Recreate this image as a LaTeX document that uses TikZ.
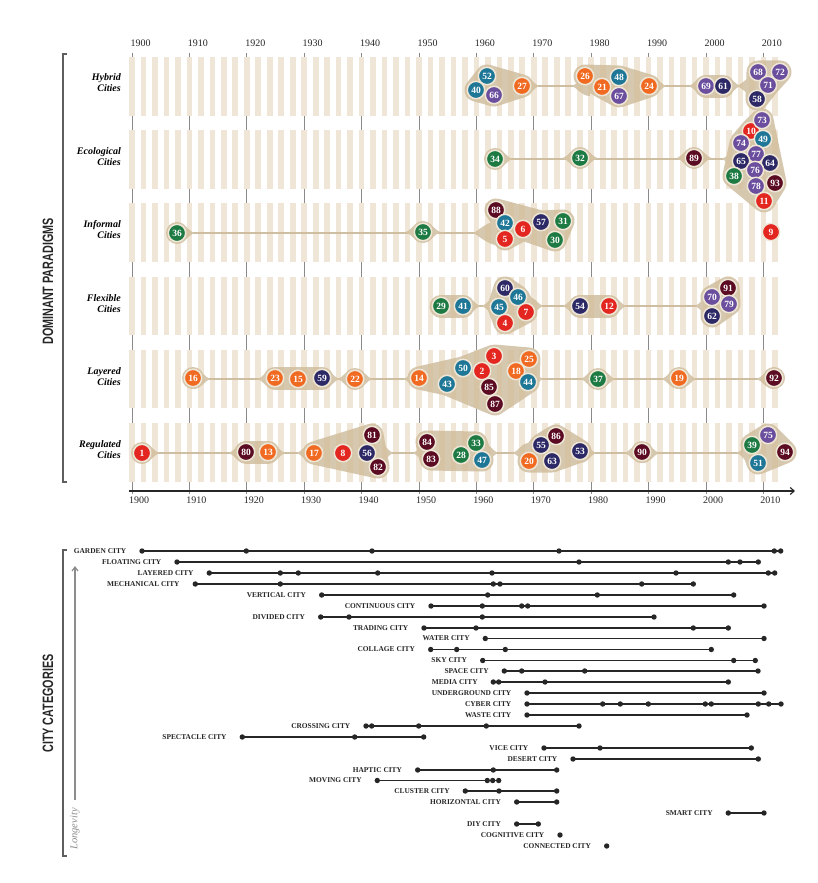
\documentclass[tikz,border=0pt]{standalone}
\usepackage{fontspec}
\setmainfont{Liberation Serif}
\newfontfamily\condfont[FakeStretch=0.72]{Liberation Sans}
\usetikzlibrary{arrows.meta}
\pgfdeclarelayer{bg}\pgfdeclarelayer{ticks}\pgfdeclarelayer{rows}\pgfdeclarelayer{blobs}\pgfdeclarelayer{stripes}
\pgfsetlayers{bg,ticks,rows,blobs,stripes,main}
\definecolor{cred}{HTML}{E3261F}
\definecolor{corg}{HTML}{F16A22}
\definecolor{cteal}{HTML}{1F7797}
\definecolor{cpur}{HTML}{6B4E9E}
\definecolor{cnavy}{HTML}{2C2966}
\definecolor{cgrn}{HTML}{1D7A43}
\definecolor{cmar}{HTML}{5B0B22}
\definecolor{blobc}{HTML}{D6C8AF}
\definecolor{stripec}{HTML}{D4BA90}
\definecolor{halo}{HTML}{EEE6D6}
\definecolor{rowl}{HTML}{CDBFA4}
\definecolor{tickc}{HTML}{8A8A8A}
\definecolor{brc}{HTML}{5E5E5E}
\definecolor{dotc}{HTML}{262626}
\definecolor{longc}{HTML}{8C8C8C}
\newcommand\bub[4]{\node[bubble, fill=#1] (n#2) at (#3,#4) {#2};}
\newcommand\tipp[5]{%
  \begin{scope}[shift={(#1,#2)}, xscale=#3]
  \fill[blobc] (0,-#5) .. controls ({0.5*#4},-#5) and ({#4-5},-1.5) .. (#4,0)
     .. controls ({#4-5},1.5) and ({0.5*#4},#5) .. (0,#5) -- cycle;
  \end{scope}}
\newcommand\tipb[2]{\tipp{#1}{#2}{1}{17}{10}\tipp{#1}{#2}{-1}{17}{10}}
\newcommand\cityrow[4]{%
  \foreach \xx [count=\k] in {#4} {\node[cdot] (#1-\k) at (\xx,#3) {}; \xdef\lastk{\k}}
  \draw[cline] (#1-1.center) -- (#1-\lastk.center);
  \node[clab] (#1-lab) at ([xshift=-15.5pt]#1-1.center) {#2};}
\begin{document}
\begin{tikzpicture}[x=1pt,y=-1pt,
  bubble/.style={circle, minimum size=17.4pt, inner sep=0pt, draw=halo, line width=1.5pt,
     text=white, font=\fontsize{9.5}{9.5}\selectfont\bfseries},
  rowlab/.style={anchor=east, align=right, inner sep=0pt, font=\fontsize{10}{11}\selectfont\bfseries\itshape},
  yearlab/.style={inner sep=0pt, text=black!85, font=\fontsize{10}{10}\selectfont},
  cdot/.style={circle, fill=dotc, minimum size=5.4pt, inner sep=0pt},
  cline/.style={draw=dotc, line width=1.7pt},
  clab/.style={anchor=east, inner sep=0pt, text=black!85, font=\fontsize{7.4}{7.4}\selectfont\bfseries},
  blobline/.style={draw=blobc, line width=23pt, line cap=round, line join=round},
  rowline/.style={draw=rowl, line width=2.2pt},
  gtick/.style={draw=tickc, line width=0.9pt},
  bracket/.style={draw=brc, line width=1.8pt},
  biglab/.style={rotate=90, inner sep=0pt, text=black!85, font=\condfont\bfseries\fontsize{15}{15}\selectfont}]
\useasboundingbox (0,0) rectangle (818,883);
\begin{pgfonlayer}{bg}
\fill[white] (0,0) rectangle (818,883);
\end{pgfonlayer}

% ---------- axes, ticks, stripes ----------
\begin{pgfonlayer}{ticks}
\foreach \d in {0,...,11}{
  \pgfmathsetmacro\xx{132+57.4*\d}
  \draw[gtick] (\xx,53) -- (\xx,57);
  \foreach \i in {0,...,4}{\draw[gtick] (\xx,{57+73.2*\i+58.5}) -- (\xx,{57+73.2*(\i+1)});}
  \draw[gtick] (\xx,481.5) -- (\xx,494);
}
\end{pgfonlayer}
\begin{pgfonlayer}{stripes}
\foreach \k in {0,...,56}{
  \pgfmathsetmacro\xx{132+11.48*\k}
  \foreach \i in {0,...,5}{
    \fill[stripec, fill opacity=0.35] ({\xx-2.85},{57+73.2*\i}) rectangle ({\xx+2.85},{57+73.2*\i+58.5});}
}
\end{pgfonlayer}
\foreach \d in {0,...,11}{
  \pgfmathsetmacro\xx{132+57.4*\d}
  \pgfmathtruncatemacro\yr{1900+10*\d}
  \node[yearlab] (ytop\d) at (\xx+8.5,43) {\yr};
  \node[yearlab] (ybot\d) at (\xx+7,500) {\yr};
}
\coordinate (axs) at (129,491);
\coordinate (axe) at (795,491);
\draw[draw=black!85, line width=1.1pt, -{Straight Barb[length=4pt,width=7pt]}] (axs) -- (axe);

% ---------- left labels ----------
\draw[bracket] (67,54) -- (63,54) -- (63,482) -- (67,482);
\node[biglab] (dp) at (48,281.5) {DOMINANT PARADIGMS};
\node[rowlab] (lab1) at (121,83) {Hybrid\\Cities};
\node[rowlab] (lab2) at (121,156.4) {Ecological\\Cities};
\node[rowlab] (lab3) at (121,229.8) {Informal\\Cities};
\node[rowlab] (lab4) at (121,303.2) {Flexible\\Cities};
\node[rowlab] (lab5) at (121,376.6) {Layered\\Cities};
\node[rowlab] (lab6) at (121,450) {Regulated\\Cities};

% ---------- bubbles ----------
% Hybrid
\bub{cteal}{52}{487}{76}
\bub{cteal}{40}{476}{90}
\bub{cpur}{66}{494}{95}
\bub{corg}{27}{522}{86}
\bub{corg}{26}{585}{76}
\bub{corg}{21}{602}{87}
\bub{cteal}{48}{619}{77}
\bub{cpur}{67}{619}{96}
\bub{corg}{24}{649}{86}
\bub{cpur}{69}{706}{86}
\bub{cnavy}{61}{723}{86}
\bub{cpur}{68}{758}{72}
\bub{cpur}{72}{780}{72}
\bub{cpur}{71}{768}{85}
\bub{cnavy}{58}{757}{99}
% Ecological
\bub{cgrn}{34}{495}{159}
\bub{cgrn}{32}{580}{158}
\bub{cmar}{89}{694}{158}
\bub{cred}{10}{751}{131}
\bub{cpur}{73}{762}{120}
\bub{cteal}{49}{763}{139}
\bub{cpur}{74}{741}{143}
\bub{cpur}{77}{756}{154}
\bub{cnavy}{65}{741}{161}
\bub{cnavy}{64}{770}{163}
\bub{cpur}{76}{755}{170}
\bub{cgrn}{38}{734}{176}
\bub{cmar}{93}{775}{183}
\bub{cpur}{78}{756}{186}
\bub{cred}{11}{764}{201}
% Informal
\bub{cgrn}{36}{177}{233}
\bub{cgrn}{35}{423}{232}
\bub{cmar}{88}{496}{210}
\bub{cteal}{42}{505}{223}
\bub{cred}{6}{523}{229}
\bub{cred}{5}{505}{239}
\bub{cnavy}{57}{541}{222}
\bub{cgrn}{31}{563}{221}
\bub{cgrn}{30}{555}{240}
\bub{cred}{9}{771}{232}
% Flexible
\bub{cgrn}{29}{441}{306}
\bub{cteal}{41}{463}{306}
\bub{cnavy}{60}{505}{288}
\bub{cteal}{46}{518}{297}
\bub{cteal}{45}{499}{307}
\bub{cred}{7}{526}{312}
\bub{cred}{4}{505}{323}
\bub{cnavy}{54}{580}{306}
\bub{cred}{12}{609}{306}
\bub{cmar}{91}{728}{288}
\bub{cpur}{70}{712}{297}
\bub{cpur}{79}{729}{304}
\bub{cnavy}{62}{712}{316}
% Layered
\bub{corg}{16}{193}{378}
\bub{corg}{23}{275}{378}
\bub{corg}{15}{298}{379}
\bub{cnavy}{59}{322}{378}
\bub{corg}{22}{355}{379}
\bub{corg}{14}{419}{378}
\bub{cteal}{43}{447}{384}
\bub{cteal}{50}{463}{368}
\bub{cred}{3}{494}{356}
\bub{cred}{2}{482}{371}
\bub{cmar}{85}{489}{387}
\bub{cmar}{87}{495}{404}
\bub{corg}{18}{516}{371}
\bub{corg}{25}{529}{359}
\bub{cteal}{44}{528}{382}
\bub{cgrn}{37}{598}{379}
\bub{corg}{19}{679}{378}
\bub{cmar}{92}{774}{378}
% Regulated
\bub{cred}{1}{142}{453}
\bub{cmar}{80}{246}{452}
\bub{corg}{13}{268}{452}
\bub{corg}{17}{314}{453}
\bub{cred}{8}{343}{453}
\bub{cmar}{81}{372}{435}
\bub{cnavy}{56}{367}{453}
\bub{cmar}{82}{378}{467}
\bub{cmar}{84}{427}{442}
\bub{cmar}{83}{431}{459}
\bub{cgrn}{28}{461}{455}
\bub{cgrn}{33}{476}{443}
\bub{cteal}{47}{482}{460}
\bub{cnavy}{55}{541}{445}
\bub{cmar}{86}{556}{436}
\bub{corg}{20}{529}{461}
\bub{cnavy}{63}{552}{461}
\bub{cnavy}{53}{580}{451}
\bub{cmar}{90}{642}{452}
\bub{cgrn}{39}{752}{445}
\bub{cpur}{75}{768}{435}
\bub{cteal}{51}{758}{463}
\bub{cmar}{94}{785}{452}

% ---------- row lines ----------
\begin{pgfonlayer}{rows}
\coordinate (r1s) at (522,86);  \coordinate (r1e) at (757,86);
\coordinate (r2s) at (495,159); \coordinate (r2e) at (741,159);
\coordinate (r3s) at (177,233); \coordinate (r3e) at (505,233);
\coordinate (r4s) at (441,306); \coordinate (r4e) at (712,306);
\coordinate (r5s) at (193,379); \coordinate (r5e) at (774,379);
\coordinate (r6s) at (142,453); \coordinate (r6e) at (785,453);
\foreach \r in {1,...,6}{\draw[rowline] (r\r s) -- (r\r e);}
\end{pgfonlayer}

% ---------- blobs ----------
\begin{pgfonlayer}{blobs}
\foreach \s in {36,35,34,32,89,16,22,37,19,92,1,90}{\fill[blobc] (n\s.center) circle[radius=11pt];}
% Hybrid
\draw[blobline, fill=blobc] (n40.center) -- (n52.center) -- (n27.center) -- (n66.center) -- cycle;
\draw[blobline, fill=blobc] (n26.center) -- (n48.center) -- (n24.center) -- (n67.center) -- (n21.center) -- cycle;
\draw[blobline] (n69.center) -- (n61.center);
\draw[blobline, fill=blobc] (n68.center) -- (n72.center) -- (n71.center) -- (n58.center) -- cycle;
\tipp{522}{86}{1}{17}{10}\tipp{590}{86}{-1}{18}{10}\tipp{649}{86}{1}{17}{10}
\tipp{706}{86}{-1}{17}{10}\tipp{723}{86}{1}{17}{10}\tipp{757}{86}{-1}{20}{10}
% Ecological
\draw[blobline, fill=blobc] (n73.center) -- (n93.center) -- (n11.center) -- (n38.center) -- (n74.center) -- (n10.center) -- cycle;
\tipp{495}{159}{1}{17}{10}\tipb{580}{158}\tipb{694}{158}\tipp{741}{159}{-1}{19}{10}
% Informal
\draw[blobline, fill=blobc] (n88.center) -- (n57.center) -- (n31.center) -- (n30.center) -- (n6.center) -- (n5.center) -- (n42.center) -- cycle;
\tipp{177}{233}{1}{17}{10}\tipb{423}{232}\tipp{502}{233}{-1}{29}{13}
% Flexible
\draw[blobline] (n29.center) -- (n41.center);
\draw[blobline, fill=blobc] (n60.center) -- (n46.center) -- (n7.center) -- (n4.center) -- (n45.center) -- cycle;
\draw[blobline] (n54.center) -- (n12.center);
\draw[blobline, fill=blobc] (n70.center) -- (n91.center) -- (n79.center) -- (n62.center) -- cycle;
\tipp{463}{306}{1}{17}{10}\tipp{499}{306}{-1}{17}{10}\tipp{526}{306}{1}{17}{10}
\tipp{580}{306}{-1}{17}{10}\tipp{609}{306}{1}{17}{10}\tipp{712}{306}{-1}{17}{10}
% Layered
\draw[blobline] (n23.center) -- (n59.center);
\draw[blobline, fill=blobc] (n14.center) -- (n50.center) -- (n3.center) -- (n25.center) -- (n44.center) -- (n87.center) -- (n43.center) -- cycle;
\tipp{193}{379}{1}{17}{10}\tipp{275}{379}{-1}{17}{10}\tipp{322}{379}{1}{17}{10}
\tipb{355}{379}\tipp{419}{379}{-1}{15}{10}\tipp{528}{379}{1}{15}{10}
\tipb{598}{379}\tipb{679}{379}\tipp{774}{379}{-1}{17}{10}
% Regulated
\draw[blobline] (n80.center) -- (n13.center);
\draw[blobline, fill=blobc] (n17.center) -- (n81.center) -- (n82.center) -- cycle;
\draw[blobline, fill=blobc] (n84.center) -- (n33.center) -- (n47.center) -- (n83.center) -- cycle;
\draw[blobline, fill=blobc] (n55.center) -- (n86.center) -- (n53.center) -- (n63.center) -- (n20.center) -- cycle;
\draw[blobline, fill=blobc] (n39.center) -- (n75.center) -- (n94.center) -- (n51.center) -- cycle;
\tipp{142}{453}{1}{17}{10}\tipp{246}{453}{-1}{17}{10}\tipp{268}{453}{1}{17}{10}
\tipp{314}{453}{-1}{17}{10}\tipp{378}{453}{1}{15}{10}\tipp{429}{453}{-1}{16}{10}
\tipp{482}{453}{1}{16}{10}\tipp{529}{453}{-1}{16}{10}\tipp{580}{453}{1}{16}{10}
\tipb{642}{453}\tipp{752}{453}{-1}{15}{10}
\end{pgfonlayer}

% ---------- city categories ----------
\draw[bracket] (67,550) -- (63,550) -- (63,856) -- (67,856);
\node[biglab] (cc) at (48,703.5) {CITY CATEGORIES};
\coordinate (lonS) at (75,800);
\coordinate (lonE) at (75,566);
\draw[draw=longc, line width=1.2pt, -{Straight Barb[length=4pt,width=6pt]}] (lonS) -- (lonE);
\node[rotate=90, inner sep=0pt, text=longc, font=\fontsize{10.5}{10.5}\selectfont\itshape] (lon) at (75,829) {Longevity};

\cityrow{garden}{GARDEN CITY}{551}{142,246.3,372,559,774.3,780.7}
\cityrow{floating}{FLOATING CITY}{562}{177,579,728.3,740,758.3}
\cityrow{layered}{LAYERED CITY}{573}{209.3,280.3,298.3,377.7,492,676,768.3,774.7}
\cityrow{mechanical}{MECHANICAL CITY}{584}{195.3,280.3,493.3,500,641.7,693.3}
\cityrow{vertical}{VERTICAL CITY}{595}{321.7,487.7,597.3,733.7}
\cityrow{continuous}{CONTINUOUS CITY}{606}{431,482.3,521.7,527.7,764}
\cityrow{divided}{DIVIDED CITY}{617}{320.7,349,482.3,654}
\cityrow{trading}{TRADING CITY}{628}{424,476,693.3,728.3}
\cityrow{water}{WATER CITY}{638.5}{485.3,764}
\cityrow{collage}{COLLAGE CITY}{649.5}{430.7,456.7,505.3,711.3}
\cityrow{sky}{SKY CITY}{660.5}{482.7,733.7,755.3}
\cityrow{space}{SPACE CITY}{671}{504.3,521.7,584.7,758}
\cityrow{media}{MEDIA CITY}{682}{493.3,498.7,545,728.3}
\cityrow{underground}{UNDERGROUND CITY}{693}{527,764}
\cityrow{cyber}{CYBER CITY}{704}{527,602.7,620.3,648.3,705.3,711.3,758.3,768.7,781}
\cityrow{waste}{WASTE CITY}{715}{527,747}
\cityrow{crossing}{CROSSING CITY}{726}{366,371.7,418.7,486.3,579}
\cityrow{spectacle}{SPECTACLE CITY}{737}{242.3,354.7,423.7}
\cityrow{vice}{VICE CITY}{748}{544,600,751.3}
\cityrow{desert}{DESERT CITY}{759}{573,758.3}
\cityrow{haptic}{HAPTIC CITY}{770}{417.7,493.3,556.7}
\cityrow{moving}{MOVING CITY}{780.5}{377.3,487.3,492.7,498.7}
\cityrow{cluster}{CLUSTER CITY}{791}{465.3,499,556.7}
\cityrow{horizontal}{HORIZONTAL CITY}{802}{516.7,556.7}
\cityrow{smart}{SMART CITY}{813}{728.3,764}
\cityrow{diy}{DIY CITY}{824}{516.7,538.3}
\cityrow{cognitive}{COGNITIVE CITY}{835}{560}
\cityrow{connected}{CONNECTED CITY}{846}{606.7}
\end{tikzpicture}
\end{document}
